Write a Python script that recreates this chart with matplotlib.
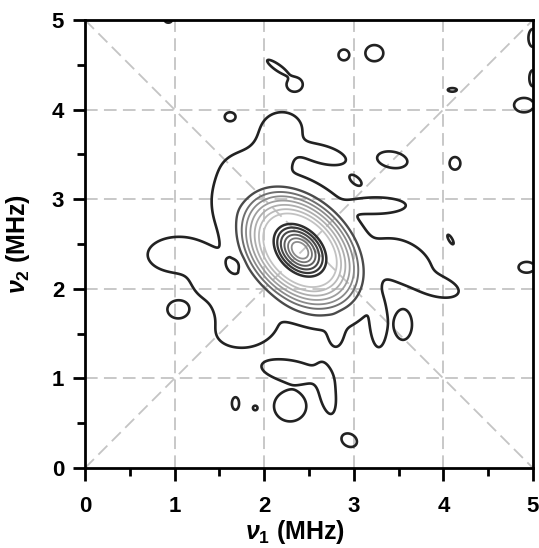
import numpy as np
import matplotlib
matplotlib.use('Agg')
import matplotlib.pyplot as plt

plt.rcParams['font.family'] = 'Liberation Sans'
plt.rcParams['font.weight'] = 'bold'
plt.rcParams['mathtext.fontset'] = 'custom'
plt.rcParams['mathtext.it'] = 'Liberation Sans:italic:bold'
plt.rcParams['mathtext.rm'] = 'Liberation Sans:bold'

# main cross peak: centre (MHz), axis lengths along anti-diagonal / diagonal,
# and a radial profile of its height (read off the contour spacing)
peak_x, peak_y = 2.40, 2.43
peak_a, peak_b = 1.0, 0.70
prof_rho = [0.00, 0.08, 0.35, 0.42, 0.80, 1.00, 1.60]
prof_val = [1.00, 0.92, 0.34, 0.29, 0.085, 0.042, 0.0]

# weak features that only reach the outer level: centre, half extents, angle (deg)
blob_x = [1.05, 1.40, 1.80, 1.65, 1.60, 1.85, 2.20, 2.10, 2.65,
          3.55, 3.95, 3.28, 2.80, 2.45,
          2.30, 2.70, 1.04, 2.29, 2.95, 1.68, 1.90, 3.55,
          1.62, 0.93, 2.15, 2.34, 2.89, 3.23, 4.10, 5.00, 5.00, 4.90,
          3.43, 4.13, 3.02, 3.25, 4.08, 4.93]
blob_y = [2.38, 2.10, 1.55, 1.85, 3.00, 3.35, 3.78, 3.50, 3.50,
          2.30, 2.02, 1.62, 1.52, 1.80,
          1.08, 0.88, 1.77, 0.69, 0.31, 0.72, 0.67, 1.60,
          3.92, 5.00, 4.47, 4.28, 4.61, 4.63, 4.22, 4.80, 4.35, 4.05,
          3.44, 3.40, 3.21, 2.93, 2.55, 2.24]
blob_rx = [0.35, 0.20, 0.33, 0.20, 0.17, 0.25, 0.22, 0.20, 0.27,
           0.35, 0.22, 0.09, 0.08, 0.35,
           0.33, 0.09, 0.12, 0.18, 0.09, 0.04, 0.025, 0.10,
           0.06, 0.04, 0.14, 0.09, 0.06, 0.10, 0.05, 0.05, 0.04, 0.11,
           0.17, 0.06, 0.08, 0.33, 0.06, 0.09]
blob_ry = [0.20, 0.20, 0.20, 0.20, 0.30, 0.18, 0.19, 0.20, 0.10,
           0.22, 0.10, 0.27, 0.16, 0.12,
           0.12, 0.28, 0.10, 0.17, 0.07, 0.07, 0.025, 0.17,
           0.05, 0.03, 0.035, 0.08, 0.06, 0.09, 0.02, 0.10, 0.09, 0.08,
           0.09, 0.07, 0.04, 0.09, 0.02, 0.06]
blob_ang = [0, 0, 10, 0, 0, 0, 0, 0, -15,
            -30, -15, 0, 0, -20,
            -10, 10, 0, 0, -30, 0, 0, 0,
            0, 0, -35, 0, 0, 0, 0, 0, 0, 0,
            -10, 0, -40, 0, -60, 0]

# small hole inside the outer contour
dip_x = [1.67]
dip_y = [2.27]
dip_s = [0.05]
dip_depth = [0.025]

# contour levels and their grey shades
levels = [0.04, 0.08, 0.11, 0.14, 0.17, 0.20, 0.23, 0.26, 0.36, 0.46, 0.56, 0.66, 0.76, 0.86]
shades = ['#222222', '#4a4a4a', '#6e6e6e', '#8a8a8a', '#9e9e9e', '#aeaeae', '#bababa',
          '#c2c2c2', '#2e2e2e', '#383838', '#484848', '#5e5e5e', '#747474', '#8c8c8c']
widths = [1.9, 1.7, 1.4, 1.3, 1.3, 1.3, 1.3, 1.3, 1.8, 1.6, 1.5, 1.4, 1.3, 1.3]

x = np.linspace(0, 5, 701)
y = np.linspace(0, 5, 701)
X, Y = np.meshgrid(x, y)

c = np.cos(np.pi / 4)
u = ((X - peak_x) - (Y - peak_y)) * c
v = ((X - peak_x) + (Y - peak_y)) * c
rho = np.sqrt((u / peak_a) ** 2 + (v / peak_b) ** 2)
main = np.interp(rho, prof_rho, prof_val)

h = 1.6
k = np.sqrt(2 * np.log(h))
acc = np.zeros_like(X)
for bx, by, rx, ry, ang in zip(blob_x, blob_y, blob_rx, blob_ry, blob_ang):
    t = np.deg2rad(ang)
    bu = (X - bx) * np.cos(t) + (Y - by) * np.sin(t)
    bv = -(X - bx) * np.sin(t) + (Y - by) * np.cos(t)
    f = h * levels[0] * np.exp(-0.5 * ((bu * k / rx) ** 2 + (bv * k / ry) ** 2))
    acc += f ** 2
B = np.minimum(np.sqrt(acc), 0.062)
Z = (main ** 4 + B ** 4) ** 0.25
for dx, dy, ds, dd in zip(dip_x, dip_y, dip_s, dip_depth):
    Z -= dd * np.exp(-0.5 * ((X - dx) ** 2 + (Y - dy) ** 2) / ds ** 2)

fig = plt.figure(figsize=(5.39, 5.48), dpi=100)
ax = fig.add_axes([0.1577, 0.146, 0.831, 0.8175])

dash = (0, (7, 3.5))
gc = '#c4c4c4'
for g in [1, 2, 3, 4]:
    ax.plot([g, g], [0, 5], color=gc, lw=1.3, ls=dash, zorder=1)
    ax.plot([0, 5], [g, g], color=gc, lw=1.3, ls=dash, zorder=1)
ax.plot([0, 5], [0, 5], color=gc, lw=1.3, ls=dash, zorder=1)
ax.plot([0, 5], [5, 0], color=gc, lw=1.3, ls=dash, zorder=1)

ax.contour(X, Y, Z, levels=levels, colors=shades, linewidths=widths, zorder=2)

ax.set_xlim(0, 5)
ax.set_ylim(0, 5)
ax.set_xticks([0, 1, 2, 3, 4, 5])
ax.set_yticks([0, 1, 2, 3, 4, 5])
ax.set_xticks([0.5, 1.5, 2.5, 3.5, 4.5], minor=True)
ax.set_yticks([0.5, 1.5, 2.5, 3.5, 4.5], minor=True)
ax.tick_params(which='major', direction='out', length=9, width=2, labelsize=16)
ax.tick_params(which='minor', direction='out', length=6, width=2)
ax.tick_params(axis='x', which='major', pad=11)
ax.tick_params(axis='y', which='major', pad=6)
for sp in ax.spines.values():
    sp.set_linewidth(2)
ax.set_xlabel(r'$\nu_1$ (MHz)', fontsize=18, fontweight='bold')
ax.set_ylabel(r'$\nu_2$ (MHz)', fontsize=18, fontweight='bold', labelpad=14)
ax.xaxis.set_label_coords(0.47, -0.112)

fig.savefig('out.png', dpi=100)
